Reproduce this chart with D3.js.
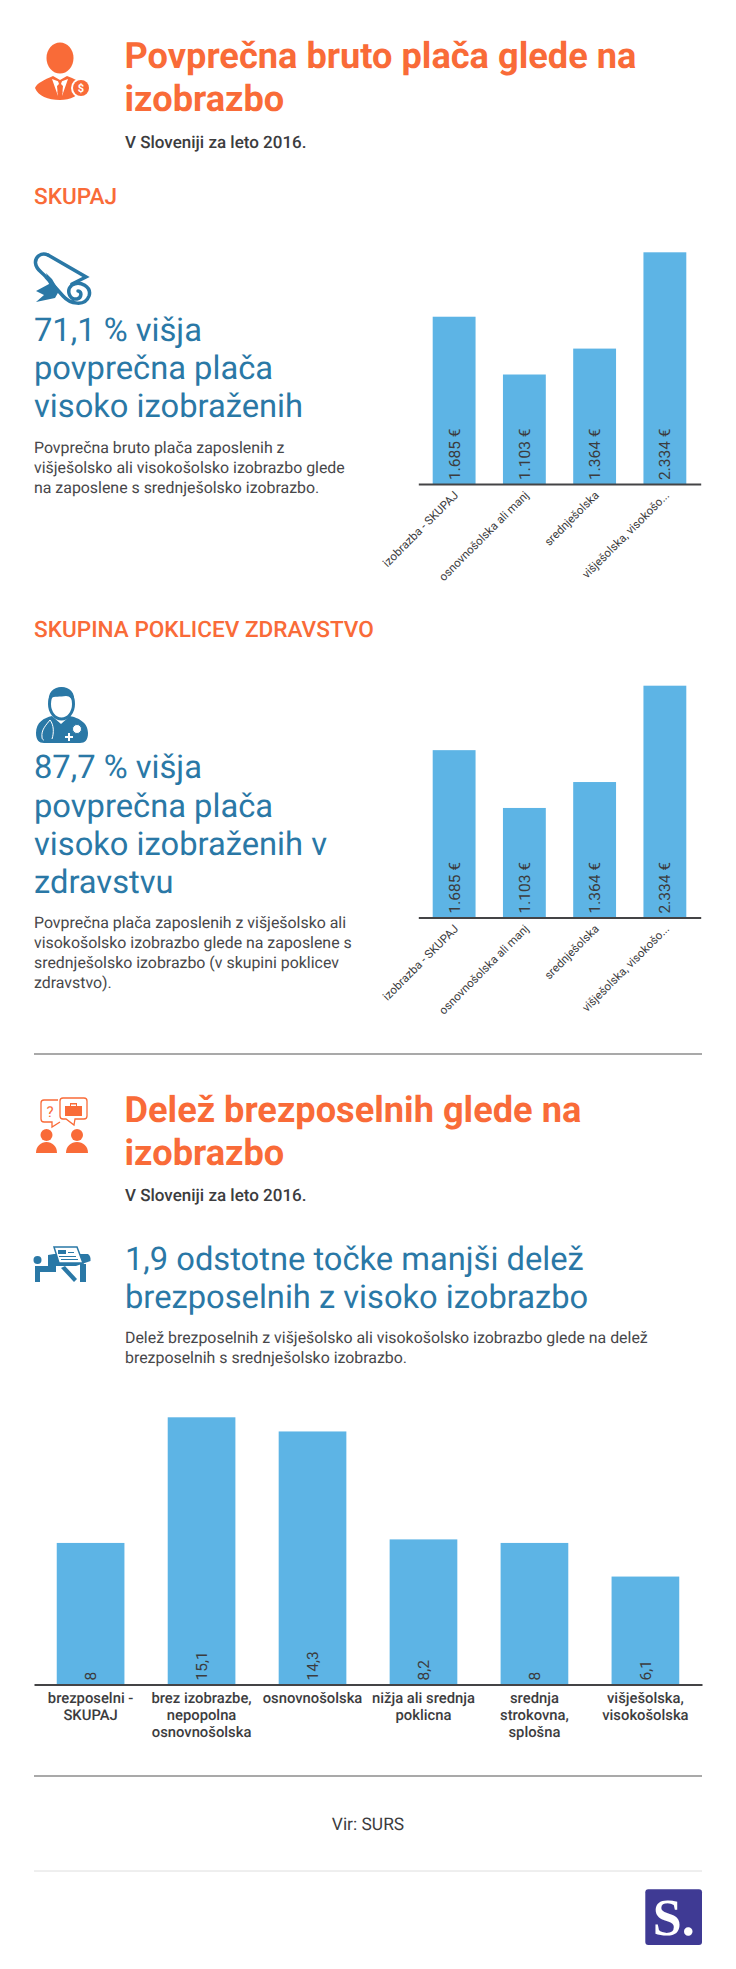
<!DOCTYPE html>
<html>
<head>
<meta charset="utf-8">
<script src="https://cdn.jsdelivr.net/npm/d3@7"></script>
<style>
  html, body { margin: 0; padding: 0; background: #fff; }
  svg { display: block; }
  text { font-family: Roboto, sans-serif; text-rendering: geometricPrecision; }
</style>
</head>
<body>
<div id="vis"></div>
<script>
// data
const wageCategories = ["izobrazba - SKUPAJ", "osnovnošolska ali manj", "srednješolska", "višješolska, visokošo..."]
const wageAll = [1685, 1103, 1364, 2334]
const wageLabelsAll = ["1.685 €", "1.103 €", "1.364 €", "2.334 €"]
const wageHealth = [1685, 1103, 1364, 2334]
const wageLabelsHealth = ["1.685 €", "1.103 €", "1.364 €", "2.334 €"]

const jobCategories = ["brezposelni - SKUPAJ", "brez izobrazbe, nepopolna osnovnošolska", "osnovnošolska", "nižja ali srednja poklicna", "srednja strokovna, splošna", "višješolska, visokošolska"]
const jobTickLines = [["brezposelni -", "SKUPAJ"], ["brez izobrazbe,", "nepopolna", "osnovnošolska"], ["osnovnošolska"], ["nižja ali srednja", "poklicna"], ["srednja", "strokovna,", "splošna"], ["višješolska,", "visokošolska"]]
const jobShare = [8, 15.1, 14.3, 8.2, 8, 6.1]
const jobLabels = ["8", "15,1", "14,3", "8,2", "8", "6,1"]

const ORANGE = "#f96b38", BLUE = "#2a78a6", BAR = "#5db4e5", DARK = "#3c3c3e", BODY = "#47474a"

const svg = d3.select("#vis").append("svg").attr("width", 736).attr("height", 1969)

// a block of text, one baseline per line
const textBlock = (lines, x, baselines, size, weight, color, anchor) => {
    const t = svg.append("g")
    lines.forEach((line, i) => {
        t.append("text").attr("x", x).attr("y", baselines[i])
            .attr("font-size", size).attr("font-weight", weight)
            .attr("fill", color).attr("text-anchor", anchor || "start")
            .text(line)
    })
}

const rule = (y, color, width) => {
    svg.append("line").attr("x1", 34).attr("x2", 702).attr("y1", y).attr("y2", y)
        .attr("stroke", color).attr("stroke-width", width)
}

// titles
textBlock(["Povprečna bruto plača glede na", "izobrazbo"], 124.5, [68, 111], 36.2, 700, ORANGE)
textBlock(["V Sloveniji za leto 2016."], 125, [148], 17, 500, DARK)
textBlock(["SKUPAJ"], 34, [204], 22.6, 500, ORANGE)
textBlock(["71,1 % višja", "povprečna plača", "visoko izobraženih"], 34, [341, 379, 417], 32.7, 400, BLUE)
textBlock(["Povprečna bruto plača zaposlenih z", "višješolsko ali visokošolsko izobrazbo glede", "na zaposlene s srednješolsko izobrazbo."], 34, [453, 473, 493], 15.9, 400, BODY)

textBlock(["SKUPINA POKLICEV ZDRAVSTVO"], 34, [637], 22.6, 500, ORANGE)
textBlock(["87,7 % višja", "povprečna plača", "visoko izobraženih v", "zdravstvu"], 34, [778, 817, 855, 893], 32.7, 400, BLUE)
textBlock(["Povprečna plača zaposlenih z višješolsko ali", "visokošolsko izobrazbo glede na zaposlene s", "srednješolsko izobrazbo (v skupini poklicev", "zdravstvo)."], 34, [928, 948, 968, 988], 15.9, 400, BODY)

textBlock(["Delež brezposelnih glede na", "izobrazbo"], 124.5, [1122, 1165], 36.2, 700, ORANGE)
textBlock(["V Sloveniji za leto 2016."], 125, [1201], 17, 500, DARK)
textBlock(["1,9 odstotne točke manjši delež", "brezposelnih z visoko izobrazbo"], 125, [1270, 1308], 32.7, 400, BLUE)
textBlock(["Delež brezposelnih z višješolsko ali visokošolsko izobrazbo glede na delež", "brezposelnih s srednješolsko izobrazbo."], 125, [1343, 1363], 15.9, 400, BODY)

textBlock(["Vir: SURS"], 368, [1830], 17.4, 400, DARK, "middle")

rule(1054, "#a9a9a9", 2)
rule(1776, "#a9a9a9", 2)
rule(1871, "#dedede", 1)

// bars + rotated value labels, axis under them
const barChart = (cats, values, labels, x0, x1, yBase, yTop) => {
    const x = d3.scaleBand().domain(cats).range([x0, x1]).paddingInner(0.39).paddingOuter(0.205)
    const y = d3.scaleLinear().domain([0, d3.max(values)]).range([yBase, yTop])
    const g = svg.append("g")

    g.selectAll("rect").data(values).enter().append("rect")
        .attr("x", (d, i) => x(cats[i]))
        .attr("width", x.bandwidth())
        .attr("y", d => y(d))
        .attr("height", d => yBase - y(d))
        .attr("fill", BAR)

    g.selectAll("text.val").data(labels).enter().append("text")
        .attr("class", "val")
        .attr("transform", (d, i) => "translate(" + (x(cats[i]) + x.bandwidth() / 2 + 5.5) + "," + (yBase - 4) + ") rotate(-90)")
        .attr("font-size", 15.5).attr("fill", DARK)
        .text(d => d)

    const axis = g.append("g").attr("transform", "translate(0," + yBase + ")")
        .call(d3.axisBottom(x).tickSize(0).tickPadding(0))
    axis.select(".domain").attr("stroke", "#444446").attr("stroke-width", 2)
    return axis
}

const rotatedTicks = axis => {
    axis.selectAll(".tick text")
        .attr("font-family", "Roboto, sans-serif").attr("font-size", 11.6).attr("fill", DARK)
        .attr("text-anchor", "end").attr("dy", 0).attr("y", 0)
        .attr("transform", "translate(5,12) rotate(-45)")
}

rotatedTicks(barChart(wageCategories, wageAll, wageLabelsAll, 418.3, 700.7, 484, 252.3))
rotatedTicks(barChart(wageCategories, wageHealth, wageLabelsHealth, 418.3, 700.7, 917.5, 685.7))

const jobAxis = barChart(jobCategories, jobShare, jobLabels, 34, 702, 1684.5, 1417.3)
jobAxis.selectAll(".tick text").each(function (d, i) {
    const el = d3.select(this).text(null).attr("y", 0).attr("dy", 0)
        .attr("font-family", "Roboto, sans-serif").attr("font-size", 14.8)
        .attr("font-weight", 500).attr("fill", DARK).attr("text-anchor", "middle")
    jobTickLines[i].forEach((line, j) => {
        el.append("tspan").attr("x", 0).attr("y", 18 + j * 17).text(line)
    })
})

// icons, drawn by hand
const icons = svg.append("g")

const man = icons.append("g").attr("fill", ORANGE)
man.append("ellipse").attr("cx", 60).attr("cy", 58).attr("rx", 13.5).attr("ry", 15.5)
man.append("path").attr("d", "M35 88C37 83 44 80 53 76L60 80L67 76C74 79 80 81 84 85C80 96 70 100 60 100C48 100 38 96 35 88Z")
man.append("path").attr("d", "M52 79L58 96L57 86L60 83L63 86L62 96L68 79L60 82Z").attr("fill", "#fff")
man.append("path").attr("d", "M58 81H62L61 84L62.5 93L60 96L57.5 93L59 84Z").attr("fill", ORANGE)
man.append("circle").attr("cx", 81).attr("cy", 88).attr("r", 10).attr("fill", "#fff")
man.append("circle").attr("cx", 81).attr("cy", 88).attr("r", 8)
man.append("text").attr("x", 81).attr("y", 92).attr("text-anchor", "middle").attr("font-size", 11).attr("font-weight", 700).attr("fill", "#fff").text("$")

const scroll = icons.append("g").attr("fill", "none").attr("stroke", BLUE).attr("stroke-width", 3.5).attr("stroke-linecap", "round")
scroll.append("path").attr("d", "M48 255L86 277L72 284")
scroll.append("path").attr("d", "M48 255C41 252 35 257 35.5 263C36 270 42 272 46 277L63 296C70 304 85 307 89 296C92 287 80 280 72 285C66 290 69 300 77 299C82 298 82 291 78 291")
icons.append("path").attr("d", "M46 273L52 279L59 291L55 298L36 302L44 295L36 291L49 284Z").attr("fill", BLUE)

const doc = icons.append("g")
doc.append("path").attr("fill", BLUE).attr("d", "M36 733C36 722 44 718 52 716L61 724L70 716C78 718 88 722 88 733C88 740 85 743 80 743L44 743C39 743 36 740 36 733Z")
doc.append("ellipse").attr("cx", 61.5).attr("cy", 704).attr("rx", 12).attr("ry", 15).attr("fill", "#fff").attr("stroke", BLUE).attr("stroke-width", 3)
doc.append("path").attr("fill", BLUE).attr("d", "M49 704C47 692 54 687 61.5 687C69 687 76 692 74 704C72 699 70 696 66 696C60 697 54 696 51 698Z")
doc.append("path").attr("fill", "none").attr("stroke", "#fff").attr("stroke-width", 1).attr("d", "M50 720C46 725 41 730 42 737C42 740 44 740 44 740M50 720C54 725 54 733 52 739")
doc.append("circle").attr("cx", 77).attr("cy", 729).attr("r", 4.5).attr("fill", "#fff").attr("stroke", BLUE).attr("stroke-width", 1)
doc.append("path").attr("stroke", "#fff").attr("stroke-width", 2).attr("d", "M65 737H73M69 733V741")

const chat = icons.append("g").attr("fill", ORANGE)
chat.append("path").attr("fill", "none").attr("stroke", ORANGE).attr("stroke-width", 1.3).attr("d", "M58 1100H44Q41 1100 41 1103V1119Q41 1122 44 1122H52L52 1127L60 1122")
chat.append("path").attr("fill", "none").attr("stroke", ORANGE).attr("stroke-width", 1.3).attr("d", "M63 1098H84Q87 1098 87 1101V1116Q87 1119 84 1119H75L74 1125L66 1119H63Q60 1119 60 1116V1101Q60 1098 63 1098Z")
chat.append("path").attr("d", "M65 1106H70V1103H77V1106H82V1116H65ZM71 1106H76V1104.5H71Z")
chat.append("text").attr("x", 50).attr("y", 1117).attr("text-anchor", "middle").attr("font-size", 15).text("?")
chat.append("circle").attr("cx", 46.5).attr("cy", 1135).attr("r", 6)
chat.append("circle").attr("cx", 77).attr("cy", 1135).attr("r", 6)
chat.append("path").attr("d", "M36 1153C36 1146 41 1142 46.5 1142C52 1142 57 1146 57 1153Z")
chat.append("path").attr("d", "M66 1153C66 1146 71 1142 77 1142C83 1142 88 1146 88 1153Z")

const desk = icons.append("g").attr("fill", BLUE)
desk.append("circle").attr("cx", 37.5).attr("cy", 1260).attr("r", 4)
desk.append("path").attr("d", "M35 1266H56V1272H40V1282H35Z")
desk.append("path").attr("d", "M48 1255L54 1254H88Q91 1256 90.5 1261L76 1266L48 1266Z")
desk.append("path").attr("d", "M80 1264H86V1282H80Z")
desk.append("path").attr("d", "M65 1266L77 1279L74 1282L61 1268Z")
desk.append("path").attr("d", "M54 1247H77L83 1263H59Z").attr("fill", "#fff").attr("stroke", BLUE).attr("stroke-width", 1.5)
desk.append("path").attr("d", "M58 1250H66V1254H58ZM68 1252H74V1253H68ZM59 1256H76V1257H59ZM61 1259H78V1260H61Z")

// logo
icons.append("rect").attr("x", 645.3).attr("y", 1889.3).attr("width", 56.7).attr("height", 55.7).attr("rx", 3).attr("fill", "#3f3a94")
icons.append("text").attr("x", 673.8).attr("y", 1935).attr("text-anchor", "middle")
    .attr("font-size", 52).attr("font-weight", 700).attr("fill", "#fff")
    .style("font-family", "'Liberation Serif', serif").text("S.")
</script>
</body>
</html>
